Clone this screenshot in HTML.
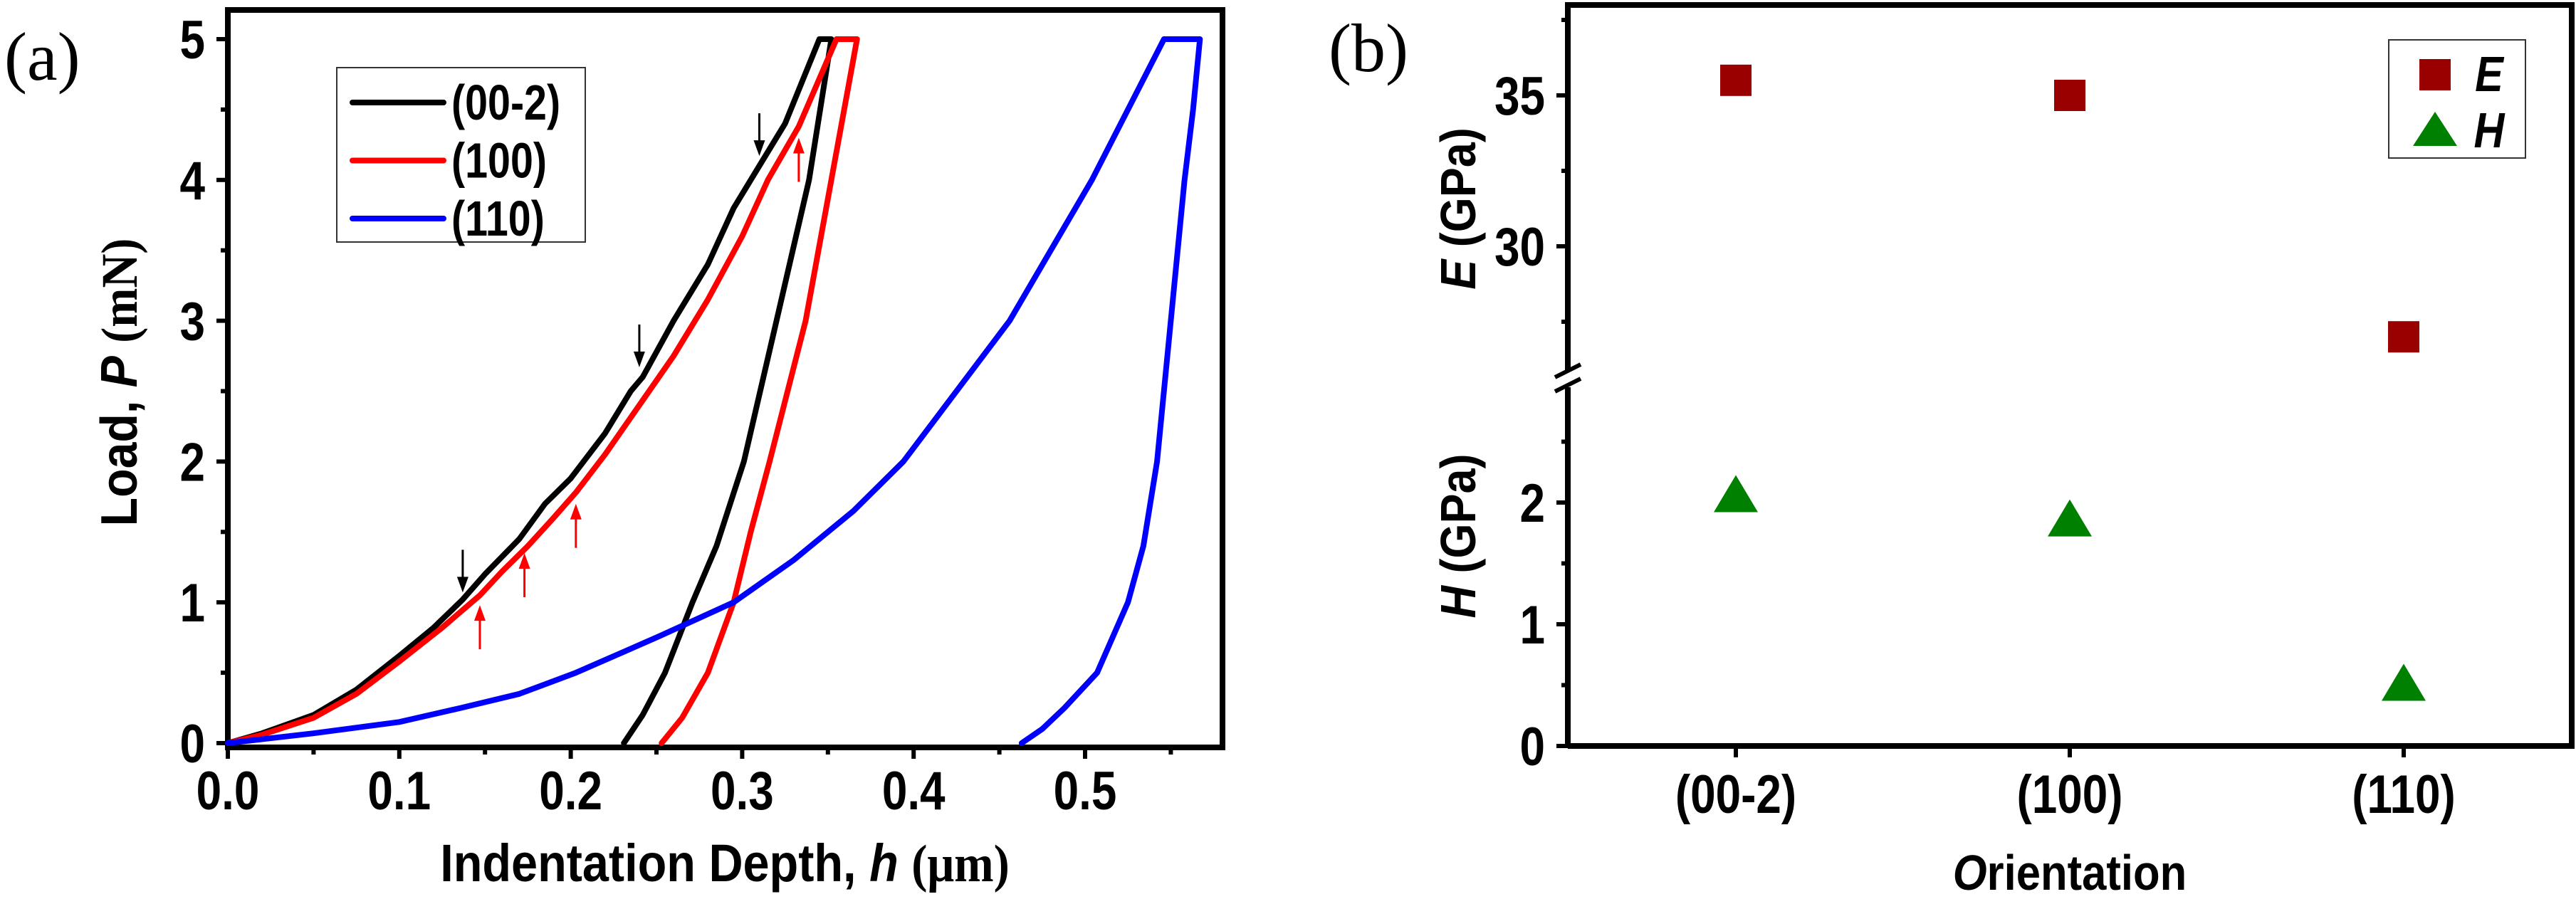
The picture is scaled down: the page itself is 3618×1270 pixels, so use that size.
<!DOCTYPE html>
<html><head><meta charset="utf-8"><style>
html,body{margin:0;padding:0;background:#fff}
svg{display:block}
text{font-family:"Liberation Sans Narrow","Liberation Sans",sans-serif;font-weight:bold;fill:#000}
.t{font-family:"Liberation Serif",serif;font-weight:normal}
</style></head><body>
<svg id="chart" width="3618" height="1270" viewBox="0 0 3618 1270" xmlns="http://www.w3.org/2000/svg">
<g id="pa"></g>
<g id="pb"></g>
</svg>
<script>
// Panel (a) data: [h (um), P (mN)]
const blackCurve = [[0,0],[0.02,0.07],[0.05,0.2],[0.075,0.38],[0.1,0.62],[0.12,0.82],[0.137,1.02],[0.15,1.2],[0.17,1.45],[0.185,1.7],[0.2,1.88],[0.22,2.2],[0.235,2.5],[0.242,2.6],[0.26,3.0],[0.28,3.4],[0.295,3.8],[0.31,4.1],[0.325,4.4],[0.345,5],[0.352,5],[0.339,4],[0.32,3],[0.301,2],[0.285,1.4],[0.271,1.0],[0.255,0.5],[0.242,0.2],[0.231,0]];
const redCurve = [[0,0],[0.02,0.06],[0.05,0.18],[0.075,0.35],[0.1,0.58],[0.125,0.82],[0.147,1.05],[0.16,1.22],[0.175,1.4],[0.19,1.6],[0.203,1.78],[0.22,2.05],[0.24,2.4],[0.26,2.75],[0.28,3.15],[0.3,3.6],[0.315,4.0],[0.333,4.38],[0.355,5],[0.367,5],[0.352,4],[0.337,3],[0.316,2],[0.305,1.5],[0.295,1.0],[0.28,0.5],[0.265,0.18],[0.253,0]];
const blueCurve = [[0,0],[0.05,0.07],[0.1,0.15],[0.136,0.25],[0.17,0.35],[0.203,0.5],[0.25,0.75],[0.295,1.0],[0.33,1.3],[0.365,1.65],[0.394,2.0],[0.425,2.5],[0.456,3.0],[0.48,3.5],[0.504,4.0],[0.525,4.5],[0.546,5],[0.567,5],[0.563,4.5],[0.558,4],[0.55,3],[0.542,2],[0.534,1.4],[0.525,1.0],[0.507,0.5],[0.488,0.25],[0.475,0.1],[0.463,0]];
const blackArrows = [[0.137,1.07],[0.24,2.67],[0.31,4.17]];
const redArrows = [[0.147,0.98],[0.173,1.35],[0.203,1.7],[0.333,4.3]];
const xTicksA = [0,0.1,0.2,0.3,0.4,0.5];
const xTickLabelsA = ["0.0","0.1","0.2","0.3","0.4","0.5"];
const yTicksA = [0,1,2,3,4,5];
const legendA = ["(00-2)","(100)","(110)"];
// Panel (b) data
const categories = ["(00-2)","(100)","(110)"];
const eValues = [35.5,35.0,27.0];
const hValues = [2.05,1.85,0.5];
const eTicks = [30,35];
const hTicks = [0,1,2];

const NS="http://www.w3.org/2000/svg";
function mk(parent,tag,attrs,txt){const e=document.createElementNS(NS,tag);for(const k in attrs)e.setAttribute(k,attrs[k]);if(txt!==undefined)e.textContent=txt;parent.appendChild(e);return e;}
// narrow text: placed at (x,y) with horizontal compression
function nt(parent,x,y,size,anchor,txt,sx,rot){const e=mk(parent,'text',{x:0,y:0,'font-size':size,'text-anchor':anchor});
 e.setAttribute('transform',`translate(${x},${y})`+(rot?' rotate(-90)':'')+` scale(${sx||0.84},1)`);
 if(txt!==undefined)e.innerHTML=txt;return e;}

// ---------- Panel A ----------
const pa=document.getElementById('pa');
const ax={l:320,r:1717,t:14,b:1050};
const xA=h=>320+h*2408;
const yA=p=>1044-p*197.8;
mk(pa,'rect',{x:ax.l,y:ax.t,width:ax.r-ax.l,height:ax.b-ax.t,fill:'none',stroke:'#000','stroke-width':8});
for(let v=0;v<=0.56;v+=0.05){const x=xA(v);const major=Math.abs(v*10-Math.round(v*10))<1e-6;
 const t=mk(pa,'line',{x1:x,x2:x,y1:ax.b,y2:ax.b+(major?16:10),stroke:'#000','stroke-width':6});
 }
xTicksA.forEach((v,i)=>{const t=nt(pa,xA(v),1137,76,'middle',xTickLabelsA[i]);
 });
for(let v=0;v<=5.01;v+=0.5){const y=yA(v);const major=Math.abs(v-Math.round(v))<1e-6;
 const t=mk(pa,'line',{x1:ax.l,x2:ax.l-(major?16:10),y1:y,y2:y,stroke:'#000','stroke-width':6});
 }
yTicksA.forEach(v=>{const t=nt(pa,288,yA(v)+27,76,'end',String(v));
 });
const cols=['#000','#ff0000','#0000ff'];
[blackCurve,redCurve,blueCurve].forEach((c,i)=>{
 const d=c.map((p,j)=>(j?'L':'M')+xA(p[0]).toFixed(1)+','+yA(p[1]).toFixed(1)).join(' ');
 const e=mk(pa,'path',{d:d,fill:'none',stroke:cols[i],'stroke-width':8,'stroke-linejoin':'round','stroke-linecap':'round'});
 });
blackArrows.forEach(a=>{const x=xA(a[0]),y=yA(a[1]);
 const g=mk(pa,'g',{});
 mk(g,'line',{x1:x,x2:x,y1:y-60,y2:y-12,stroke:'#000','stroke-width':3});
 mk(g,'path',{d:`M${x-8},${y-22} L${x},${y} L${x+8},${y-22} Z`,fill:'#000'});});
redArrows.forEach(a=>{const x=xA(a[0]),y=yA(a[1]);
 const g=mk(pa,'g',{});
 mk(g,'line',{x1:x,x2:x,y1:y+12,y2:y+62,stroke:'#ff0000','stroke-width':3});
 mk(g,'path',{d:`M${x-8},${y+22} L${x},${y} L${x+8},${y+22} Z`,fill:'#ff0000'});});
const lg=mk(pa,'g',{});
mk(lg,'rect',{x:473,y:95,width:349,height:245,fill:'#fff',stroke:'#333','stroke-width':2});
legendA.forEach((s,i)=>{const y=144+i*81.5;
 const e=mk(lg,'g',{});
 mk(e,'line',{x1:495,x2:623,y1:y,y2:y,stroke:cols[i],'stroke-width':8,'stroke-linecap':'round'});
 nt(e,634,y+24,70,'start',s,0.82);});
const yl=nt(pa,192,537,72,'middle','Load, <tspan font-style="italic">P</tspan> <tspan style="font-family:Liberation Serif;font-weight:bold">(mN)</tspan>',0.92,true);

const xl=nt(pa,1018,1238,74,'middle','Indentation Depth, <tspan font-style="italic">h</tspan> <tspan style="font-family:Liberation Serif;font-weight:bold">(μm)</tspan>',0.9);

const la=mk(pa,'text',{x:6,y:112,'font-size':96,class:'t'},'(a)');

// ---------- Panel B ----------
const pb=document.getElementById('pb');
const bx={l:2202,r:3612,t:7,b:1048};
const xB=i=>2438+i*469;
const yE=v=>346-(v-30)*42.4;
const yH=v=>1048-v*171;
const fr=mk(pb,'path',{d:`M${bx.l},${bx.b} L${bx.l},${bx.t} L${bx.r},${bx.t} L${bx.r},${bx.b} L${bx.l},${bx.b}`,fill:'none',stroke:'#000','stroke-width':8});

const br=mk(pb,'g',{});
mk(br,'rect',{x:bx.l-8,y:522,width:16,height:22,fill:'#fff'});
mk(br,'line',{x1:bx.l-18,y1:530,x2:bx.l+18,y2:512,stroke:'#000','stroke-width':6});
mk(br,'line',{x1:bx.l-18,y1:550,x2:bx.l+18,y2:532,stroke:'#000','stroke-width':6});
[27.5,30,32.5,35,37.5].forEach(v=>{const major=v%5===0;const t=mk(pb,'line',{x1:bx.l,x2:bx.l-(major?16:9),y1:yE(v),y2:yE(v),stroke:'#000','stroke-width':6});
 });
[0,0.5,1,1.5,2,2.5].forEach(v=>{const major=v%1===0;const t=mk(pb,'line',{x1:bx.l,x2:bx.l-(major?16:9),y1:yH(v),y2:yH(v),stroke:'#000','stroke-width':6});
 });
eTicks.forEach(v=>{const t=nt(pb,2170,yE(v)+27,76,'end',String(v));});
hTicks.forEach(v=>{const t=nt(pb,2170,yH(v)+27,76,'end',String(v));});
categories.forEach((c,i)=>{const t=mk(pb,'line',{x1:xB(i),x2:xB(i),y1:bx.b,y2:bx.b+16,stroke:'#000','stroke-width':6});
 const l=nt(pb,xB(i),1142,76,'middle',c);});
eValues.forEach((v,i)=>{const m=mk(pb,'rect',{x:xB(i)-22,y:yE(v)-22,width:44,height:44,fill:'#990000'});});
hValues.forEach((v,i)=>{const x=xB(i),y=yH(v);const m=mk(pb,'path',{d:`M${x},${y-30} L${x+31},${y+22} L${x-31},${y+22} Z`,fill:'#008000'});});
const lb=mk(pb,'g',{});
mk(lb,'rect',{x:3355,y:56,width:192,height:166,fill:'#fff',stroke:'#333','stroke-width':2});
const le1=mk(lb,'g',{});
mk(le1,'rect',{x:3398,y:83,width:44,height:44,fill:'#990000'});
nt(le1,3496,128,70,'middle','<tspan font-style="italic">E</tspan>',0.85);
const le2=mk(lb,'g',{});
mk(le2,'path',{d:'M3420,157 L3451,205 L3389,205 Z',fill:'#008000'});
nt(le2,3496,207,70,'middle','<tspan font-style="italic">H</tspan>',0.85);
const ey=nt(pb,2072,293,70,'middle','<tspan font-style="italic">E</tspan> (GPa)',0.9,true);

const hy=nt(pb,2072,753,70,'middle','<tspan font-style="italic">H</tspan> (GPa)',0.9,true);

const ox=nt(pb,2907,1250,70,'middle','<tspan font-style="italic">O</tspan>rientation',0.88);

const lbl=mk(pb,'text',{x:1866,y:100,'font-size':96,class:'t'},'(b)');
</script>
</body></html>
